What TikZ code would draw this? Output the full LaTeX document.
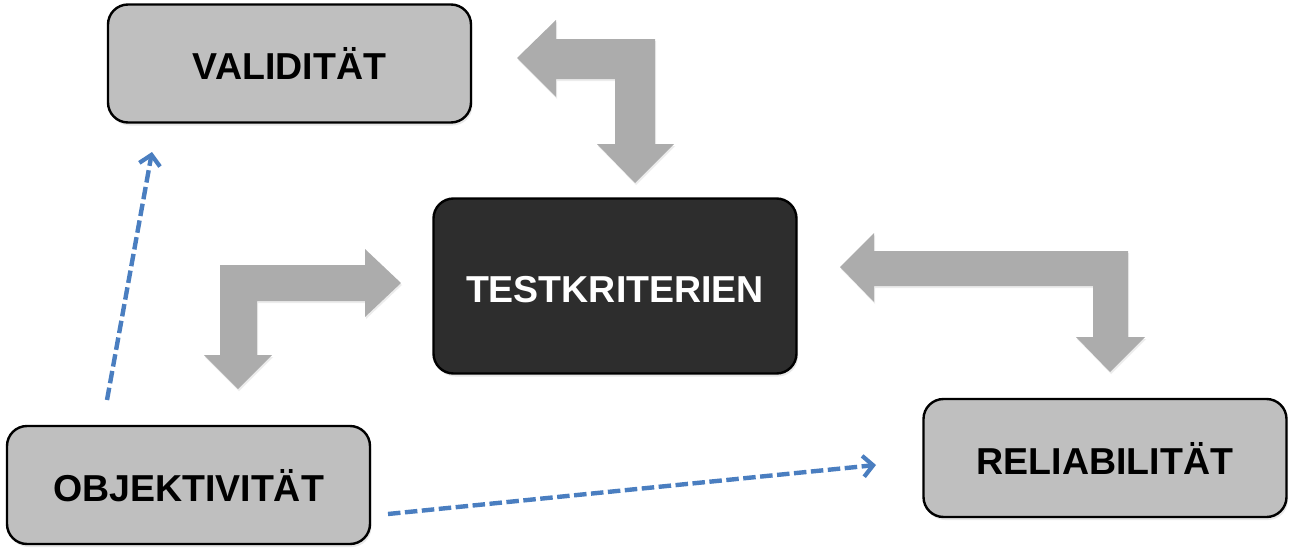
\documentclass[tikz,border=0pt]{standalone}
\usepackage{fontspec}
\setmainfont{Liberation Sans}
\usetikzlibrary{arrows.meta,shadows}
\definecolor{boxgray}{HTML}{BFBFBF}
\definecolor{boxdark}{HTML}{2D2D2D}
\definecolor{arrgray}{HTML}{ACACAC}
\definecolor{dashblue}{HTML}{4A7EC0}
\begin{document}
\begin{tikzpicture}[x=1pt,y=-1pt,
  critbox/.style={draw=black, line width=2.4pt, rounded corners=20pt, fill=boxgray,
    minimum width=363pt, minimum height=118pt, inner sep=0pt,
    font=\fontsize{37.5}{40}\selectfont\bfseries, text height=32.5pt, text depth=0pt,
    drop shadow={shadow xshift=1.5pt, shadow yshift=-3pt, opacity=0.18}},
  darkbox/.style={critbox, fill=boxdark, text=white, minimum height=175pt},
  bentarrow/.style={fill=arrgray, draw=none,
    drop shadow={shadow xshift=1pt, shadow yshift=-2pt, opacity=0.15}},
  dasharrow/.style={draw=dashblue, line width=4.4pt, dash pattern=on 12.5pt off 4.5pt,
    -{Straight Barb[length=10pt,width=21pt,line width=4.2pt]}}
]
\useasboundingbox (0,0) rectangle (1294,557);

% boxes
\node[critbox] (val) at (289.5,63.5) {VALIDITÄT};
\node[darkbox] (test) at (615,286) {TESTKRITERIEN};
\node[critbox] (obj) at (188.5,485) {OBJEKTIVITÄT};
\node[critbox] (rel) at (1105,458) {RELIABILITÄT};

% bent block arrows
\path[bentarrow] (517,58) -- (556,20) -- (556,39) -- (655,39) -- (655,144) -- (674,144)
  -- (635,183) -- (597,144) -- (615,144) -- (615,79) -- (556,79) -- (556,97) -- cycle;
\path[bentarrow] (401,283) -- (365,249) -- (365,265) -- (220,265) -- (220,355) -- (204,355)
  -- (238,389) -- (272,355) -- (257,355) -- (257,301) -- (365,301) -- (365,317) -- cycle;
\path[bentarrow] (840,267) -- (874,233) -- (874,251) -- (1128,251) -- (1128,337) -- (1145,337)
  -- (1110,372) -- (1076,337) -- (1093,337) -- (1093,286) -- (874,286) -- (874,302) -- cycle;

% dashed connectors
\coordinate (o1) at (107,400);
\coordinate (v1) at (152,152);
\coordinate (o2) at (388,514);
\coordinate (r1) at (876,465);
\draw[dasharrow] (o1) -- (v1);
\draw[dasharrow] (o2) -- (r1);
\end{tikzpicture}
\end{document}
